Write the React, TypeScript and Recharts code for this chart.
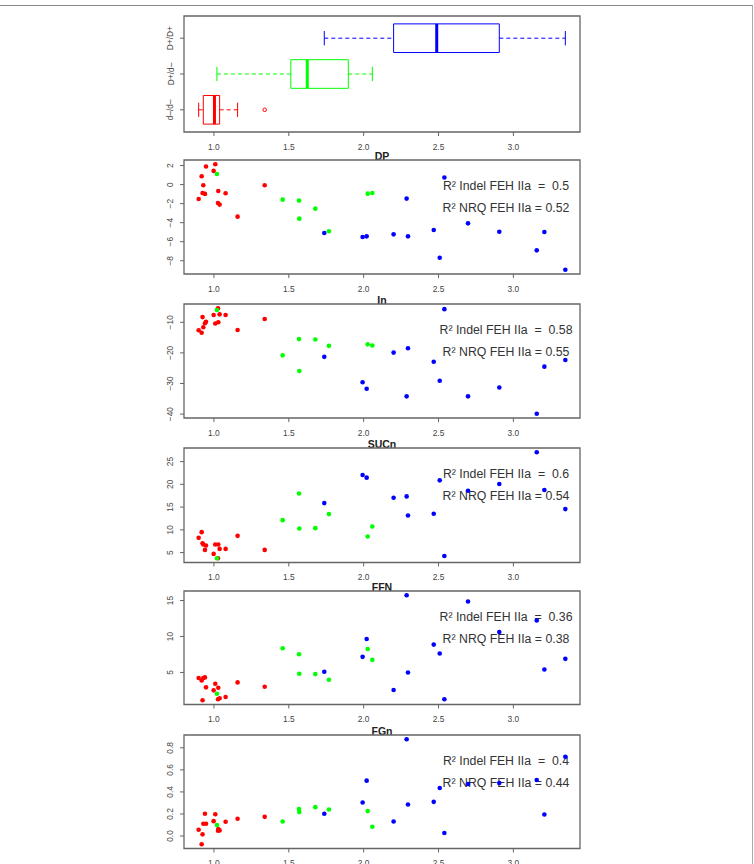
import React from 'react';
import { ScatterChart, Scatter, XAxis, YAxis, ReferenceArea, ReferenceLine, Customized } from 'recharts';

// FEH IIa values (x axis of every panel), one array per genotype
const fehRed = [0.898, 0.918, 0.924, 0.929, 0.94, 0.947, 0.998, 1.009, 1.027, 1.029, 1.038, 1.078, 1.158, 1.339];
const fehGreen = [1.02, 1.459, 1.568, 1.57, 1.677, 1.768, 2.027, 2.058];
const fehBlue = [1.737, 1.993, 2.02, 2.2, 2.287, 2.296, 2.468, 2.508, 2.539, 2.697, 2.906, 3.156, 3.207, 3.347];

const dpRed = [-1.51, 0.88, -0.88, -0.07, -0.98, 1.9, 1.44, 2.14, -1.93, -0.67, -2.1, -0.91, -3.37, -0.07];
const dpGreen = [1.12, -1.58, -1.68, -3.58, -2.53, -4.91, -0.95, -0.88];
const dpBlue = [-5.09, -5.51, -5.44, -5.23, -1.47, -5.44, -4.77, -7.68, 0.74, -4.07, -4.95, -6.91, -4.98, -8.95];

const inRed = [-12.6, -13.4, -8.3, -11.6, -10.3, -9.8, -7.6, -10.4, -5.4, -10.0, -7.4, -7.6, -12.5, -8.9];
const inGreen = [-6.0, -20.8, -15.5, -25.9, -15.6, -17.7, -17.2, -17.6];
const inBlue = [-21.3, -29.6, -31.7, -19.9, -34.2, -18.5, -22.9, -29.1, -5.7, -34.2, -31.3, -39.9, -24.5, -22.3];

const sucRed = [8.24, 9.49, 7.06, 6.76, 5.59, 6.54, 4.71, 6.76, 3.75, 6.76, 5.81, 5.81, 8.68, 5.59];
const sucGreen = [3.75, 12.13, 18.0, 10.3, 10.37, 13.46, 8.53, 10.74];
const sucBlue = [15.88, 22.06, 21.47, 17.06, 17.35, 13.16, 13.53, 20.88, 4.26, 18.6, 20.07, 27.06, 18.75, 14.56];

const ffnRed = [4.22, 3.89, 1.13, 4.22, 4.31, 2.93, 2.51, 3.43, 1.27, 2.88, 1.41, 1.59, 3.62, 3.02];
const ffnGreen = [2.05, 8.36, 7.53, 4.82, 4.77, 3.99, 8.27, 6.75];
const ffnBlue = [5.09, 7.17, 9.65, 2.56, 15.74, 5.0, 8.87, 7.63, 1.27, 14.86, 10.62, 12.24, 5.41, 6.89];

const fgnRed = [0.057, -0.075, 0.015, 0.111, 0.202, 0.111, 0.135, 0.198, 0.048, 0.063, 0.051, 0.129, 0.156, 0.174];
const fgnGreen = [0.099, 0.132, 0.244, 0.217, 0.262, 0.241, 0.226, 0.084];
const fgnBlue = [0.202, 0.304, 0.502, 0.132, 0.878, 0.286, 0.31, 0.436, 0.027, 0.472, 0.481, 0.508, 0.195, 0.719];

const groupLabels = ['d–/d–', 'D+/d–', 'D+/D+'];
const xTicks = [1.0, 1.5, 2.0, 2.5, 3.0];

const RED = '#ff0000';
const GREEN = '#00ff00';
const BLUE = '#0000ff';
const FRAME = '#666666';
const TXT = '#444444';
const FONT = '"Liberation Sans", Arial, Helvetica, sans-serif';

const M_TOP = 20;

// R style axis range: data range plus 4% on each side
const rRange = (v: number[]) => {
	const lo = Math.min(...v);
	const hi = Math.max(...v);
	const d = (hi - lo) * 0.04;
	return [lo - d, hi + d];
};

// Tukey five number summary, like R's fivenum
const fivenum = (v: number[]) => {
	const s = [...v].sort((a, b) => a - b);
	const n = s.length;
	const n4 = Math.floor((n + 3) / 2) / 2;
	const d = [1, n4, (n + 1) / 2, n + 1 - n4, n];
	return d.map((i) => 0.5 * (s[Math.floor(i) - 1] + s[Math.ceil(i) - 1]));
};

const boxStats = (v: number[]) => {
	const [, q1, med, q3] = fivenum(v);
	const iqr = q3 - q1;
	const inside = v.filter((x) => x >= q1 - 1.5 * iqr && x <= q3 + 1.5 * iqr);
	return {
		q1,
		med,
		q3,
		lo: Math.min(...inside),
		hi: Math.max(...inside),
		out: v.filter((x) => x < q1 - 1.5 * iqr || x > q3 + 1.5 * iqr),
	};
};

const xDom = rRange([...fehRed, ...fehGreen, ...fehBlue]);

const fmtNum = (v: number, digits: number) => v.toFixed(digits).replace('-', '−');

const RotTick = (props: any) => {
	const { x, y, payload, label } = props;
	const bx = x - 0.5;
	return (
		<text
			x={bx}
			y={y}
			transform={`rotate(-90 ${bx} ${y})`}
			textAnchor='middle'
			fontSize={8.4}
			fill={TXT}
			fontFamily={FONT}
		>
			{label(payload.value)}
		</text>
	);
};

const dot = (color: string) => (p: any) => <circle cx={p.cx} cy={p.cy} r={2.3} fill={color} />;

const xAxis = (
	<XAxis
		type='number'
		dataKey='x'
		domain={xDom}
		allowDataOverflow
		ticks={xTicks}
		interval={0}
		tickFormatter={(v) => v.toFixed(1)}
		axisLine={false}
		tickSize={4}
		tickMargin={8}
		tickLine={{ stroke: FRAME }}
		tick={{ fontSize: 8.4, fill: TXT, fontFamily: FONT }}
		height={30}
	/>
);

const BoxPanel = ({ top, h }: { top: number; h: number }) => {
	const yDom = [0.38, 3.62];
	const groups = [
		{ vals: fehRed, color: RED, pos: 1 },
		{ vals: fehGreen, color: GREEN, pos: 2 },
		{ vals: fehBlue, color: BLUE, pos: 3 },
	];
	return (
		<div style={{ position: 'absolute', left: 0, top: top - M_TOP }}>
			<ScatterChart
				width={754}
				height={M_TOP + h + 30}
				margin={{ top: M_TOP, right: 174, bottom: 0, left: 154 }}
			>
				{xAxis}
				<YAxis
					type='number'
					dataKey='y'
					domain={yDom}
					allowDataOverflow
					ticks={[1, 2, 3]}
					interval={0}
					width={30}
					axisLine={false}
					tickSize={4}
					tickMargin={6}
					tickLine={{ stroke: FRAME }}
					tick={(p: any) => <RotTick {...p} label={(v: number) => groupLabels[v - 1]} />}
				/>
				<ReferenceArea
					x1={xDom[0]}
					x2={xDom[1]}
					y1={yDom[0]}
					y2={yDom[1]}
					fill='none'
					stroke={FRAME}
					strokeWidth={1.3}
				/>
				{groups.map((g) => {
					const s = boxStats(g.vals);
					return (
						<React.Fragment key={g.pos}>
							<ReferenceLine
								segment={[{ x: s.lo, y: g.pos }, { x: s.q1, y: g.pos }]}
								stroke={g.color}
								strokeDasharray='4 3'
							/>
							<ReferenceLine
								segment={[{ x: s.q3, y: g.pos }, { x: s.hi, y: g.pos }]}
								stroke={g.color}
								strokeDasharray='4 3'
							/>
							<ReferenceLine
								segment={[{ x: s.lo, y: g.pos - 0.2 }, { x: s.lo, y: g.pos + 0.2 }]}
								stroke={g.color}
							/>
							<ReferenceLine
								segment={[{ x: s.hi, y: g.pos - 0.2 }, { x: s.hi, y: g.pos + 0.2 }]}
								stroke={g.color}
							/>
							<ReferenceArea
								x1={s.q1}
								x2={s.q3}
								y1={g.pos - 0.4}
								y2={g.pos + 0.4}
								fill='none'
								stroke={g.color}
								strokeWidth={1}
							/>
							<ReferenceLine
								segment={[{ x: s.med, y: g.pos - 0.4 }, { x: s.med, y: g.pos + 0.4 }]}
								stroke={g.color}
								strokeWidth={3}
							/>
							<Scatter
								data={s.out.map((x) => ({ x, y: g.pos }))}
								shape={(p: any) => (
									<circle cx={p.cx} cy={p.cy} r={1.8} fill='none' stroke={g.color} strokeWidth={1} />
								)}
								isAnimationActive={false}
							/>
						</React.Fragment>
					);
				})}
			</ScatterChart>
		</div>
	);
};

type PanelProps = {
	top: number;
	h: number;
	title: string;
	red: number[];
	green: number[];
	blue: number[];
	ticks: number[];
	digits: number;
	r2: string[];
};

const ScatterPanel = ({ top, h, title, red, green, blue, ticks, digits, r2 }: PanelProps) => {
	const yDom = rRange([...red, ...green, ...blue]);
	const mk = (xs: number[], ys: number[]) => xs.map((x, i) => ({ x, y: ys[i] }));
	return (
		<div style={{ position: 'absolute', left: 0, top: top - M_TOP }}>
			<ScatterChart
				width={754}
				height={M_TOP + h + 30}
				margin={{ top: M_TOP, right: 174, bottom: 0, left: 154 }}
			>
				{xAxis}
				<YAxis
					type='number'
					dataKey='y'
					domain={yDom}
					allowDataOverflow
					ticks={ticks}
					interval={0}
					width={30}
					axisLine={false}
					tickSize={4}
					tickMargin={6}
					tickLine={{ stroke: FRAME }}
					tick={(p: any) => <RotTick {...p} label={(v: number) => fmtNum(v, digits)} />}
				/>
				<ReferenceArea
					x1={xDom[0]}
					x2={xDom[1]}
					y1={yDom[0]}
					y2={yDom[1]}
					fill='none'
					stroke={FRAME}
					strokeWidth={1.3}
				/>
				<Scatter data={mk(fehRed, red)} shape={dot(RED)} isAnimationActive={false} />
				<Scatter data={mk(fehGreen, green)} shape={dot(GREEN)} isAnimationActive={false} />
				<Scatter data={mk(fehBlue, blue)} shape={dot(BLUE)} isAnimationActive={false} />
				<Customized
					component={() => (
						<g fontFamily={FONT}>
							<text x={382} y={M_TOP - 0.5} textAnchor='middle' fontSize={10.5} fontWeight='bold' fill='#222'>
								{title}
							</text>
							<text
								x={506}
								y={M_TOP + 30}
								textAnchor='middle'
								fontSize={12.3}
								fill='#333'
								xmlSpace='preserve'
								style={{ whiteSpace: 'pre' }}
							>
								{`R² Indel FEH IIa  =  ${r2[0]}`}
							</text>
							<text x={506} y={M_TOP + 51.5} textAnchor='middle' fontSize={12.3} fill='#333'>
								{`R² NRQ FEH IIa = ${r2[1]}`}
							</text>
						</g>
					)}
				/>
			</ScatterChart>
		</div>
	);
};

export default function App() {
	return (
		<div
			style={{
				position: 'absolute',
				left: 0,
				top: 0,
				width: 754,
				height: 864,
				overflow: 'hidden',
				background: '#fff',
			}}
		>
			<div
				style={{
					position: 'absolute',
					left: 0,
					top: 5,
					width: 752,
					height: 870,
					borderTop: '1px solid #888',
					borderRight: '1px solid #aaa',
				}}
			/>
			<BoxPanel top={16} h={116} />
			<ScatterPanel top={160} h={114} title='DP' red={dpRed} green={dpGreen} blue={dpBlue} ticks={[-8, -6, -4, -2, 0, 2]} digits={0} r2={['0.5', '0.52']} />
			<ScatterPanel top={304} h={114} title='In' red={inRed} green={inGreen} blue={inBlue} ticks={[-40, -30, -20, -10]} digits={0} r2={['0.58', '0.55']} />
			<ScatterPanel top={447.5} h={114.5} title='SUCn' red={sucRed} green={sucGreen} blue={sucBlue} ticks={[5, 10, 15, 20, 25]} digits={0} r2={['0.6', '0.54']} />
			<ScatterPanel top={591} h={113.5} title='FFN' red={ffnRed} green={ffnGreen} blue={ffnBlue} ticks={[5, 10, 15]} digits={0} r2={['0.36', '0.38']} />
			<ScatterPanel top={735} h={113.5} title='FGn' red={fgnRed} green={fgnGreen} blue={fgnBlue} ticks={[0, 0.2, 0.4, 0.6, 0.8]} digits={1} r2={['0.4', '0.44']} />
		</div>
	);
}
